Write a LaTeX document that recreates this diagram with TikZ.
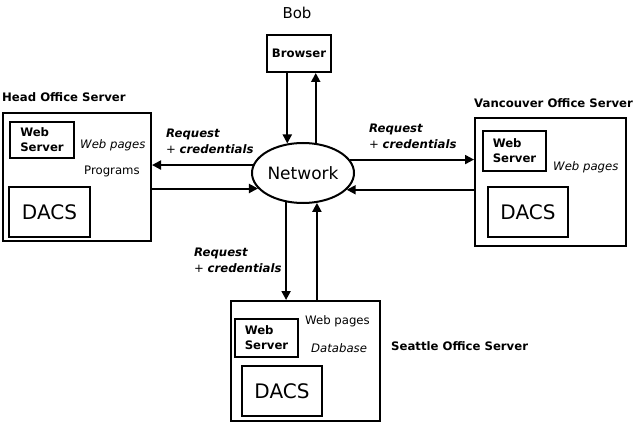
\documentclass[tikz,border=0pt]{standalone}
\usepackage{fontspec}
\setmainfont{DejaVu Sans}
\usepackage{tikz}
\usetikzlibrary{arrows.meta,shapes.geometric}

\begin{document}
\begin{tikzpicture}[x=1pt, y=-1pt,
  box/.style={draw, line width=2pt, inner sep=0pt},
  websrv/.style={box, align=left, font=\fontsize{11.7}{15}\selectfont\bfseries},
  dacs/.style={box, font=\fontsize{20}{24}\selectfont},
  txt/.style={inner sep=0pt, anchor=west, font=\fontsize{11.7}{14}\selectfont},
  title/.style={txt, font=\fontsize{11.7}{14}\selectfont\bfseries},
  req/.style={inner sep=0pt, anchor=north west, align=left, font=\fontsize{11.7}{16}\selectfont},
  arr/.style={line width=2pt, -{Triangle[length=9pt,width=9pt]}}]
\useasboundingbox (0,0) rectangle (637,422);

\node[font=\fontsize{15}{18}\selectfont, inner sep=0pt] (bob) at (297,13) {Bob};
\node[box, minimum width=64, minimum height=37, font=\fontsize{11.7}{14}\selectfont\bfseries] (browser) at (299,53.5) {Browser};
\node[ellipse, draw, line width=2pt, inner sep=0pt, minimum width=102, minimum height=60, font=\fontsize{17}{20}\selectfont] (net) at (303,173) {Network};

\node[title] (headlbl) at (2,97) {Head Office Server};
\node[box, minimum width=148, minimum height=128] (head) at (77,177) {};
\node[websrv, minimum width=64, minimum height=36] (headweb) at (42,140) {Web\\Server};
\node[dacs, minimum width=81, minimum height=50] (headdacs) at (49.5,212) {DACS};
\node[txt] (headpages) at (80,145) {\itshape Web pages};
\node[txt] (headprog) at (84,171) {Programs};

\node[title] (vanlbl) at (474,103) {Vancouver Office Server};
\node[box, minimum width=151, minimum height=128] (van) at (550.5,182) {};
\node[websrv, minimum width=63, minimum height=40] (vanweb) at (514.5,151) {Web\\Server};
\node[dacs, minimum width=80, minimum height=50] (vandacs) at (528,212) {DACS};
\node[txt] (vanpages) at (553,167.5) {\itshape Web pages};

\node[title] (sealbl) at (391,346) {Seattle Office Server};
\node[box, minimum width=149, minimum height=120] (sea) at (305.5,361) {};
\node[websrv, minimum width=63, minimum height=38] (seaweb) at (266.5,338) {Web\\Server};
\node[dacs, minimum width=80, minimum height=50] (seadacs) at (282,391) {DACS};
\node[txt] (seapages) at (305,321) {Web pages};
\node[txt] (seadb) at (311,348) {\itshape Database};

\node[req] (req1) at (166,129) {\textbf{\textit{Request}}\\+ \textbf{\textit{credentials}}};
\node[req] (req2) at (369,124) {\textbf{\textit{Request}}\\+ \textbf{\textit{credentials}}};
\node[req] (req3) at (194,248) {\textbf{\textit{Request}}\\+ \textbf{\textit{credentials}}};

\draw[arr] (net.118 |- browser.south) -- (net.118);
\draw[arr] (net.67) -- (net.67 |- browser.south);
\draw[arr] (net.171) -- (net.171 -| head.east);
\draw[arr] (net.199 -| head.east) -- (net.199);
\draw[arr] (net.16) -- (net.16 -| van.west);
\draw[arr] (net.339 -| van.west) -- (net.339);
\draw[arr] (net.240) -- (net.240 |- sea.north);
\draw[arr] (net.295 |- sea.north) -- (net.295);
\end{tikzpicture}
\end{document}
